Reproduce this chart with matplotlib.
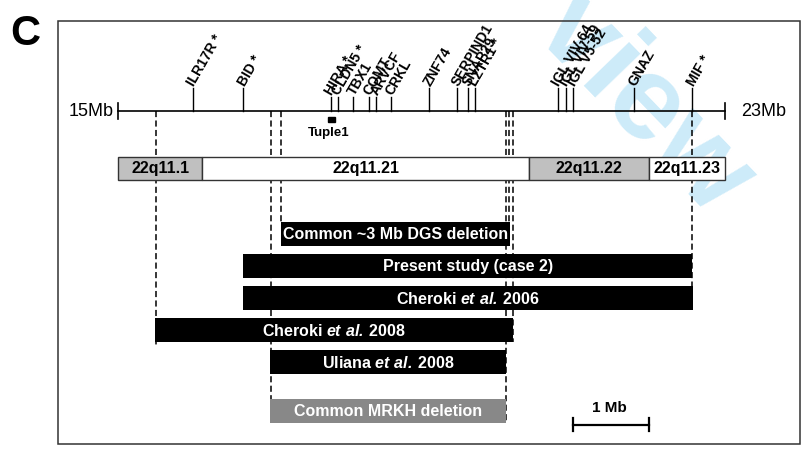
import matplotlib
matplotlib.use("Agg")
import matplotlib.pyplot as plt
from matplotlib.patches import Rectangle

plt.rcParams['font.family'] = 'Liberation Sans'
plt.rcParams['mathtext.fontset'] = 'custom'
plt.rcParams['mathtext.bf'] = 'Liberation Sans:bold'
plt.rcParams['mathtext.bfit'] = 'Liberation Sans:italic:bold'

# region of chr22 shown (Mb)
chrom_start, chrom_end = 15, 23

gene_names = ['ILR17R *', 'BID *', 'HIRA *', 'CLDN5 *', 'TBX1', 'COMT', 'ARVCF',
              'CRKL', 'ZNF74', 'SERPIND1', 'SNAP29', 'LZTR1 *', 'IGL VIV-64',
              'IGL VIV-59', 'IGL V5-52', 'GNAZ', 'MIF *']
gene_pos = [15.98, 16.65, 17.80, 17.90, 18.10, 18.31, 18.40, 18.60, 19.10,
            19.47, 19.61, 19.70, 20.80, 20.90, 21.00, 21.80, 22.57]
tuple1_pos = 17.81

band_edges = [15.0, 16.11, 20.41, 22.0, 23.0]
band_names = ['22q11.1', '22q11.21', '22q11.22', '22q11.23']
band_dark = [True, False, True, False]

del_labels = ['Common ~3 Mb DGS deletion',
              'Present study (case 2)',
              r'Cheroki $\mathbfit{et\ al.}\,$2006',
              r'Cheroki $\mathbfit{et\ al.}\,$2008',
              r'Uliana $\mathbfit{et\ al.}\,$2008',
              'Common MRKH deletion']
del_start = [17.15, 16.65, 16.65, 15.49, 17.00, 17.00]
del_end = [20.17, 22.57, 22.58, 20.20, 20.11, 20.11]

# breakpoint guide lines (Mb)
guide_pos = [15.50, 17.01, 17.15, 20.11, 20.155, 20.20, 22.57]

scale_start, scale_end = 21.0, 22.0

# ---- pixel layout helpers -------------------------------------------------
W, H = 803, 450
x0_px, px_per_mb = 118.3, 75.84


def mb(px):
    return chrom_start + (px - x0_px) / px_per_mb


fig = plt.figure(figsize=(W / 100, H / 100), dpi=100)
ax = fig.add_axes([0, 0, 1, 1])
ax.set_xlim(mb(0), mb(W))
ax.set_ylim(H, 0)
ax.axis('off')

# frame
fig.patches.append(Rectangle((58 / W, 1 - 444 / H), (800 - 58) / W, (444 - 21) / H,
                             transform=fig.transFigure, fill=False,
                             lw=1.1, ec='#333333', zorder=0))

fig.text(25 / W, 1 - 34 / H, 'C', fontsize=30, fontweight='bold',
         ha='center', va='center')

# watermark (clipped at the top like in the source image)
ax.text(mb(643), 104, 'view', rotation=-46, fontsize=86, fontweight='bold',
        color='#cdebf9', ha='center', va='center', zorder=1, clip_on=True)

# chromosome line
line_y = 111
ax.plot([chrom_start, chrom_end], [line_y, line_y], color='black', lw=1.2, zorder=3)
for e in (chrom_start, chrom_end):
    ax.plot([e, e], [line_y - 8, line_y + 8], color='black', lw=1.2, zorder=3)
ax.text(mb(114), line_y, f'{chrom_start}Mb', fontsize=13, ha='right', va='center')
ax.text(mb(741), line_y, f'{chrom_end}Mb', fontsize=13, ha='left', va='center')

short = {'HIRA *', 'CLDN5 *', 'TBX1', 'COMT', 'ARVCF', 'CRKL'}
for name, p in zip(gene_names, gene_pos):
    top = 97 if name in short else 88
    ax.plot([p, p], [top, line_y], color='black', lw=1.0, zorder=3)
    ax.text(p - 0.03, top - 3, name, rotation=60, rotation_mode='anchor',
            ha='left', va='center', fontsize=10, fontweight='bold', zorder=4)

ax.add_patch(Rectangle((tuple1_pos - 0.045, 116.5), 0.09, 5.5, color='black', zorder=3))
ax.text(tuple1_pos - 0.03, 133, 'Tuple1', fontsize=9.5, fontweight='bold',
        ha='center', va='center')

# guide lines
guide_bottom = [346, 400, 222, 423, 246, 342, 310]
for p, b in zip(guide_pos, guide_bottom):
    ax.plot([p, p], [line_y, b], color='black', lw=1.1,
            linestyle=(0, (4, 2.2)), zorder=2)

# cytogenetic bands
for i, name in enumerate(band_names):
    a, b = band_edges[i], band_edges[i + 1]
    ax.add_patch(Rectangle((a, 157), b - a, 23,
                           fc='#c0c0c0' if band_dark[i] else 'white',
                           ec='#333333', lw=1.0, zorder=3))
    ax.text((a + b) / 2, 168.5, name, fontsize=11.5, fontweight='bold',
            ha='center', va='center', zorder=4)

# deletions
bar_tops = [222, 254, 286, 318, 350, 399]
for lab, s, e, t in zip(del_labels, del_start, del_end, bar_tops):
    col = '#888888' if 'MRKH' in lab else 'black'
    ax.add_patch(Rectangle((s, t), e - s, 24, fc=col, ec='none', zorder=3))
    ax.text((s + e) / 2, t + 12.5, lab, color='white', fontsize=11.5,
            fontweight='bold', ha='center', va='center', zorder=4)

# scale bar
sy = 425
ax.plot([scale_start, scale_end], [sy, sy], color='black', lw=1.6)
for p in (scale_start, scale_end):
    ax.plot([p, p], [sy - 7, sy + 6], color='black', lw=1.6)
ax.text((scale_start + scale_end) / 2 - 0.02, 408, '1 Mb', fontsize=11,
        fontweight='bold', ha='center', va='center')

fig.savefig('out.png', dpi=100)
